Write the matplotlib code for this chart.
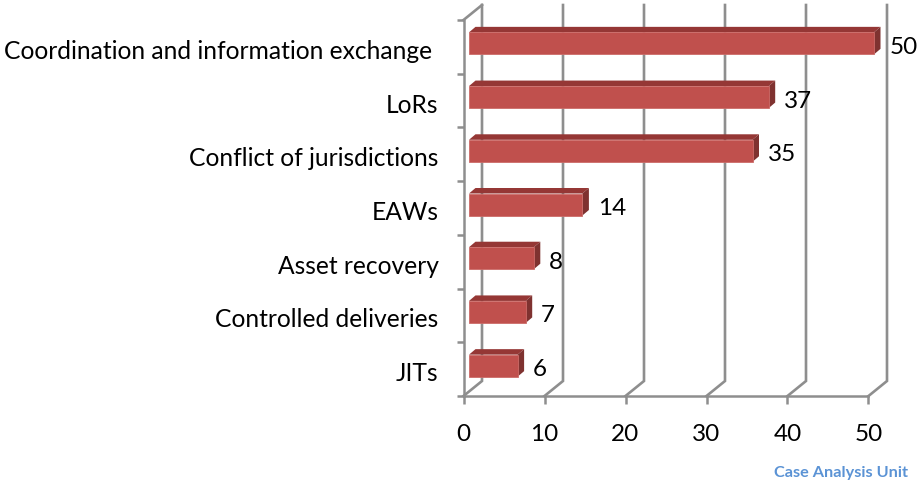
import numpy as np
import matplotlib
matplotlib.use('Agg')
import matplotlib.pyplot as plt
from matplotlib.patches import Polygon

# Data
categorias = ['JITs', 'Controlled deliveries', 'Asset recovery', 'EAWs',
              'Conflict of jurisdictions', 'LoRs',
              'Coordination and information exchange ']
casos = [6, 7, 8, 14, 35, 37, 50]
ticks_x = [0, 10, 20, 30, 40, 50]

W, H = 919, 485
plt.rcParams['font.family'] = ['Lato', 'DejaVu Sans']

fig = plt.figure(figsize=(W / 100, H / 100), dpi=100)
# eixo frontal em pixels: x 463.5-868.5, y 21-397
ax = fig.add_axes([463.5 / W, 1 - 397 / H, 405 / W, 376 / H])
ax.set_xlim(0, 50)
ax.set_ylim(-0.5, 6.5)
ax.patch.set_alpha(0)

px_x = 50 / 405
px_y = 7 / 376
dx = 18.5 * px_x  # profundidade da parede
dy = 15 * px_y
cinza = '#8e8e8e'

for s in ['top', 'right']:
    ax.spines[s].set_visible(False)
for s in ['left', 'bottom']:
    ax.spines[s].set_color(cinza)
    ax.spines[s].set_linewidth(1.8)

ax.set_xticks(ticks_x)
ax.set_yticks(np.arange(-0.5, 7, 1))
ax.set_yticklabels([])
ax.tick_params(axis='x', length=6, width=1.8, color=cinza, pad=13.5, labelsize=17.5)
ax.tick_params(axis='y', length=5, width=1.8, color=cinza)
ax.set_yticks(np.arange(len(categorias)) - 1.5 * px_y, minor=True)
ax.set_yticklabels(categorias, minor=True, fontsize=17.7)
ax.tick_params(axis='y', which='minor', length=0, pad=18)

# parede de fundo e chao
for v in ticks_x:
    ax.plot([v, v + dx, v + dx], [-0.5, -0.5 + dy, 6.5 + dy], color=cinza, lw=1.9,
            clip_on=False, zorder=1, solid_joinstyle='miter')
ax.plot([0, dx], [6.5, 6.5 + dy], color=cinza, lw=1.9, clip_on=False, zorder=1)

# barras 3D
x0 = 5.5 * px_x
bx = 6.5 * px_x
by = 5.5 * px_y
alt = 22 * px_y
centro = 3.5 * px_y
for i, v in enumerate(casos):
    yb = i + centro - alt / 2
    yt = yb + alt
    xe = x0 + v
    ax.add_patch(Polygon([(x0, yt), (x0 + bx, yt + by), (xe + bx, yt + by), (xe, yt)],
                         fc='#953735', ec='none', clip_on=False, zorder=3))
    ax.add_patch(Polygon([(xe, yb), (xe + bx, yb + by), (xe + bx, yt + by), (xe, yt)],
                         fc='#7f3230', ec='none', clip_on=False, zorder=3))
    ax.barh(i + centro, v, height=alt, left=x0, color='#c0504d', edgecolor='#cc6c69',
            linewidth=0.6, clip_on=False, zorder=4)
    ax.text(xe + bx + 9 * px_x, i + centro - 3 * px_y, str(v), ha='left', va='center',
            fontsize=17.5, color='black', clip_on=False, zorder=5)

fig.text(908 / W, 1 - 473 / H, 'Case Analysis Unit', ha='right', va='center',
         fontsize=11.7, fontweight='bold', color='#5b93d5')

fig.savefig('out.png', dpi=100)
